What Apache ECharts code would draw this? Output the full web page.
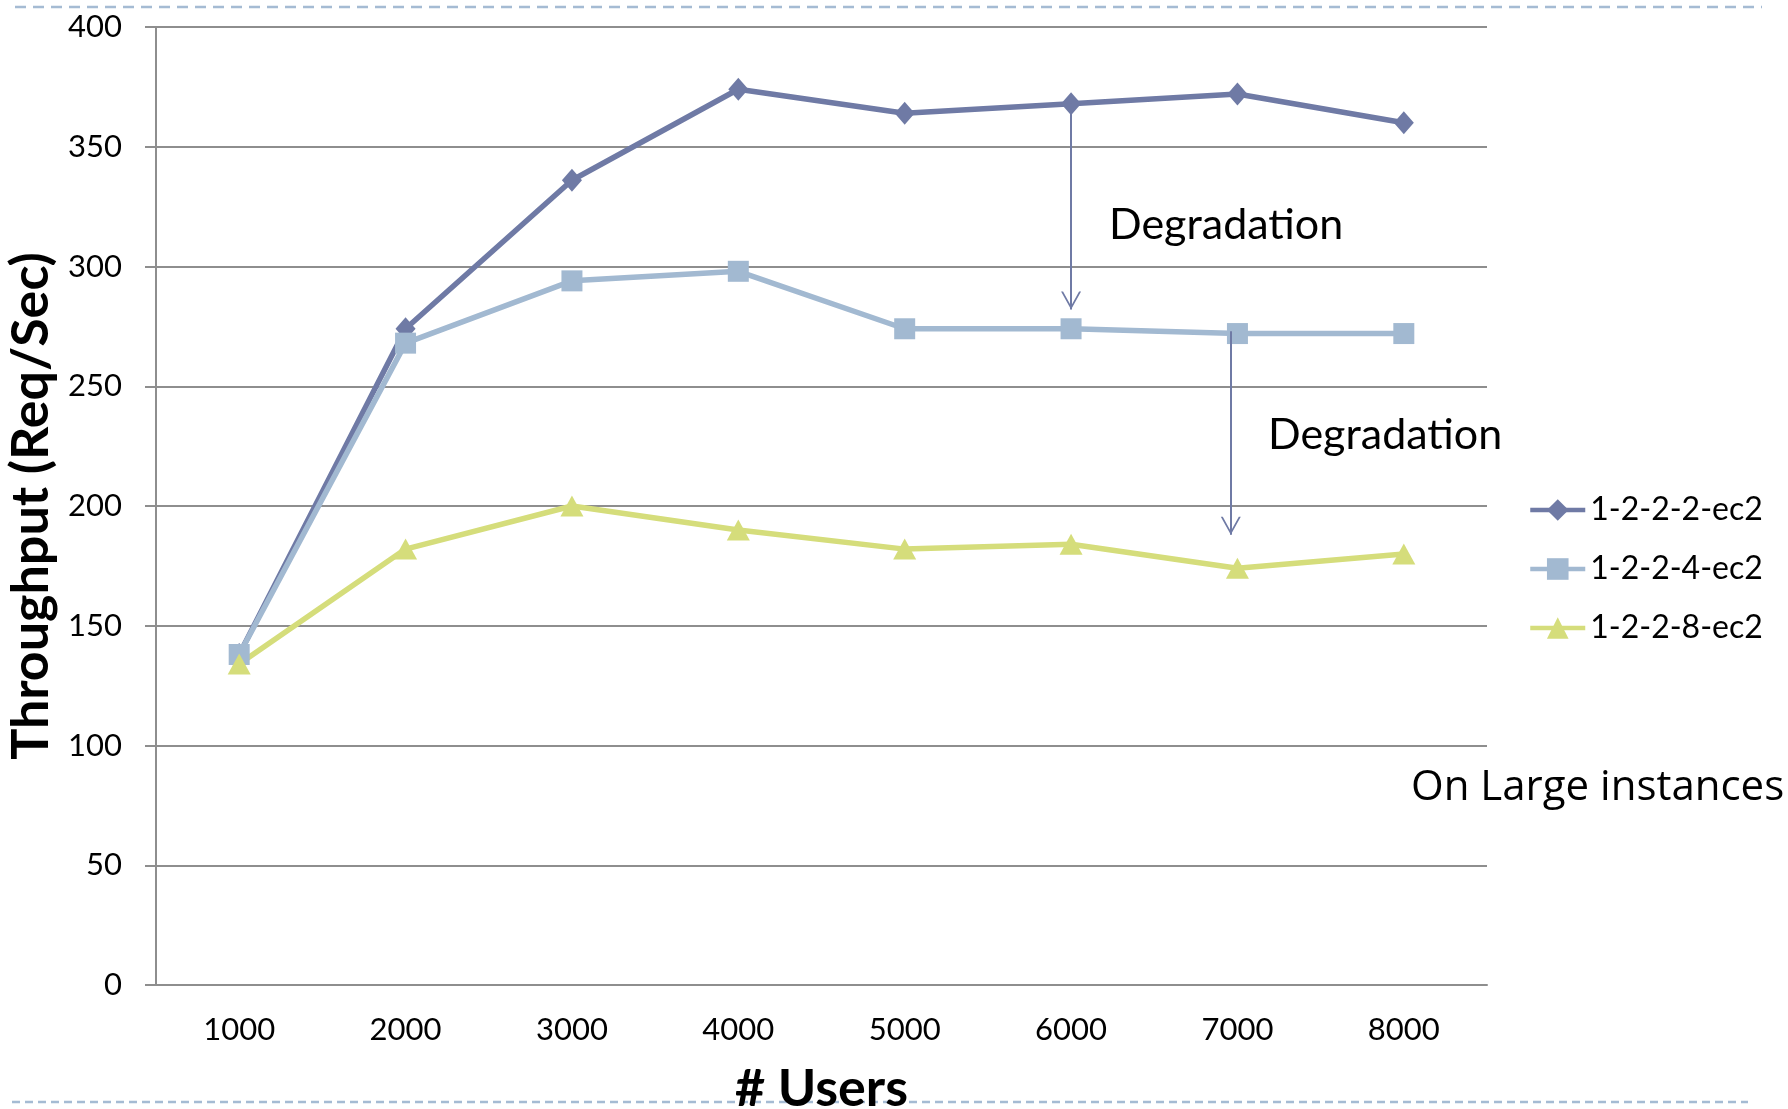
<!DOCTYPE html>
<html>
<head>
<meta charset="utf-8">
<title>Throughput vs Users</title>
<script src="https://cdn.jsdelivr.net/npm/echarts@6/dist/echarts.min.js"></script>
<style>
  html, body { margin: 0; padding: 0; background: #ffffff; }
  #chart { width: 1788px; height: 1109px; }
</style>
</head>
<body>
<div id="chart"></div>
<script>
// Number of concurrent users (x categories)
const users = ['1000', '2000', '3000', '4000', '5000', '6000', '7000', '8000'];

// Configuration names
const seriesNames = ['1-2-2-2-ec2', '1-2-2-4-ec2', '1-2-2-8-ec2'];

// Throughput (Req/Sec) per configuration
const tput2222 = [138, 274, 336, 374, 364, 368, 372, 360];
const tput2224 = [138, 268, 294, 298, 274, 274, 272, 272];
const tput2228 = [134, 182, 200, 190, 182, 184, 174, 180];

// Y axis range
const yMin = 0;
const yMax = 400;
const yStep = 50;

// Degradation arrows: x as category index, from / to throughput value
const arrowX = [5, 5.96];
const arrowFrom = [368, 273];
const arrowTo = [282, 188];

// Annotation texts
const degradationText = 'Degradation';
const noteText = 'On Large instances';

const colors = ['#6F7AA5', '#A2B9D1', '#D5DD7B'];
const arrowColor = '#6F7AA5';
const gridGray = '#8E8E8E';

const chevron = 'path://M10,0 L20,18 L18,18 L10,3.6 L2,18 L0,18 Z';

const chart = echarts.init(document.getElementById('chart'), null, { renderer: 'canvas' });

const option = {
  animation: false,
  backgroundColor: '#ffffff',
  color: colors,
  grid: { left: 156, right: 301, top: 27, bottom: 124, containLabel: false, outerBoundsMode: 'none' },
  legend: {
    orient: 'vertical',
    left: 1528,
    top: 494,
    padding: 0,
    itemWidth: 55,
    itemHeight: 27,
    itemGap: 27,
    selectedMode: false,
    data: seriesNames,
    lineStyle: { width: 4.5 },
    textStyle: { fontFamily: 'Lato', fontSize: 32, color: '#000', padding: [0, 0, 0, 0] }
  },
  xAxis: [{
    type: 'category',
    data: users,
    boundaryGap: true,
    axisLine: { show: true, onZero: false, lineStyle: { color: gridGray, width: 2 } },
    axisTick: { show: false },
    axisLabel: { fontFamily: 'Lato', fontSize: 31, color: '#000', margin: 29 },
    name: '# Users',
    nameLocation: 'middle',
    nameGap: 78,
    nameTextStyle: { fontFamily: 'Lato', fontWeight: 'bold', fontSize: 52, color: '#000' }
  }, {
    type: 'value',
    min: -0.5,
    max: 7.5,
    show: false
  }],
  yAxis: {
    type: 'value',
    min: yMin,
    max: yMax,
    interval: yStep,
    axisLine: { show: true, onZero: false, lineStyle: { color: gridGray, width: 2 } },
    axisTick: { show: true, inside: false, length: 11, lineStyle: { color: gridGray, width: 2 } },
    splitLine: { show: true, lineStyle: { color: gridGray, width: 2 } },
    axisLabel: { fontFamily: 'Lato', fontSize: 31, color: '#000', margin: 34 },
    name: 'Throughput (Req/Sec)',
    nameLocation: 'middle',
    nameRotate: 90,
    nameGap: 92,
    nameTextStyle: { fontFamily: 'Lato', fontWeight: 'bold', fontSize: 52, color: '#000' }
  },
  series: [
    {
      name: seriesNames[0],
      type: 'line',
      data: tput2222,
      symbol: 'diamond',
      symbolSize: [20, 23],
      lineStyle: { width: 5.5, color: colors[0] },
      itemStyle: { color: colors[0] },
      emphasis: { disabled: true }
    },
    {
      name: seriesNames[1],
      type: 'line',
      data: tput2224,
      symbol: 'rect',
      symbolSize: 21,
      lineStyle: { width: 5.5, color: colors[1] },
      itemStyle: { color: colors[1] },
      emphasis: { disabled: true }
    },
    {
      name: seriesNames[2],
      type: 'line',
      data: tput2228,
      symbol: 'triangle',
      symbolSize: [23, 21],
      lineStyle: { width: 5.5, color: colors[2] },
      itemStyle: { color: colors[2] },
      emphasis: { disabled: true }
    },
    {
      name: 'arrows',
      type: 'line',
      xAxisIndex: 1,
      data: [],
      silent: true,
      markLine: {
        silent: true,
        symbol: ['none', chevron],
        symbolSize: [20, 18],
        symbolOffset: [[0, 0], [0, 9]],
        label: { show: false },
        lineStyle: { color: arrowColor, width: 2, type: 'solid' },
        emphasis: { disabled: true },
        data: arrowX.map((x, i) => [
          { coord: [x, arrowFrom[i]] },
          { coord: [x, arrowTo[i]] }
        ])
      }
    }
  ],
  graphic: [
    {
      type: 'line', z: -10, silent: true,
      shape: { x1: 15, y1: 7, x2: 1762, y2: 7 },
      style: { stroke: '#A5BBD3', lineWidth: 2.5, lineDash: [11, 7] }
    },
    {
      type: 'line', z: -10, silent: true,
      shape: { x1: 12, y1: 1102, x2: 1748, y2: 1102 },
      style: { stroke: '#A5BBD3', lineWidth: 2.5, lineDash: [8, 5] }
    },
    {
      type: 'text', silent: true, x: 1109, y: 225,
      style: { text: degradationText, font: '43px Lato', fill: '#000', verticalAlign: 'middle', align: 'left' }
    },
    {
      type: 'text', silent: true, x: 1268, y: 435,
      style: { text: degradationText, font: '43px Lato', fill: '#000', verticalAlign: 'middle', align: 'left' }
    },
    {
      type: 'text', silent: true, x: 1411, y: 788,
      style: { text: noteText, font: '42px "Open Sans"', fill: '#000', verticalAlign: 'middle', align: 'left' }
    }
  ]
};

chart.setOption(option);
</script>
</body>
</html>
